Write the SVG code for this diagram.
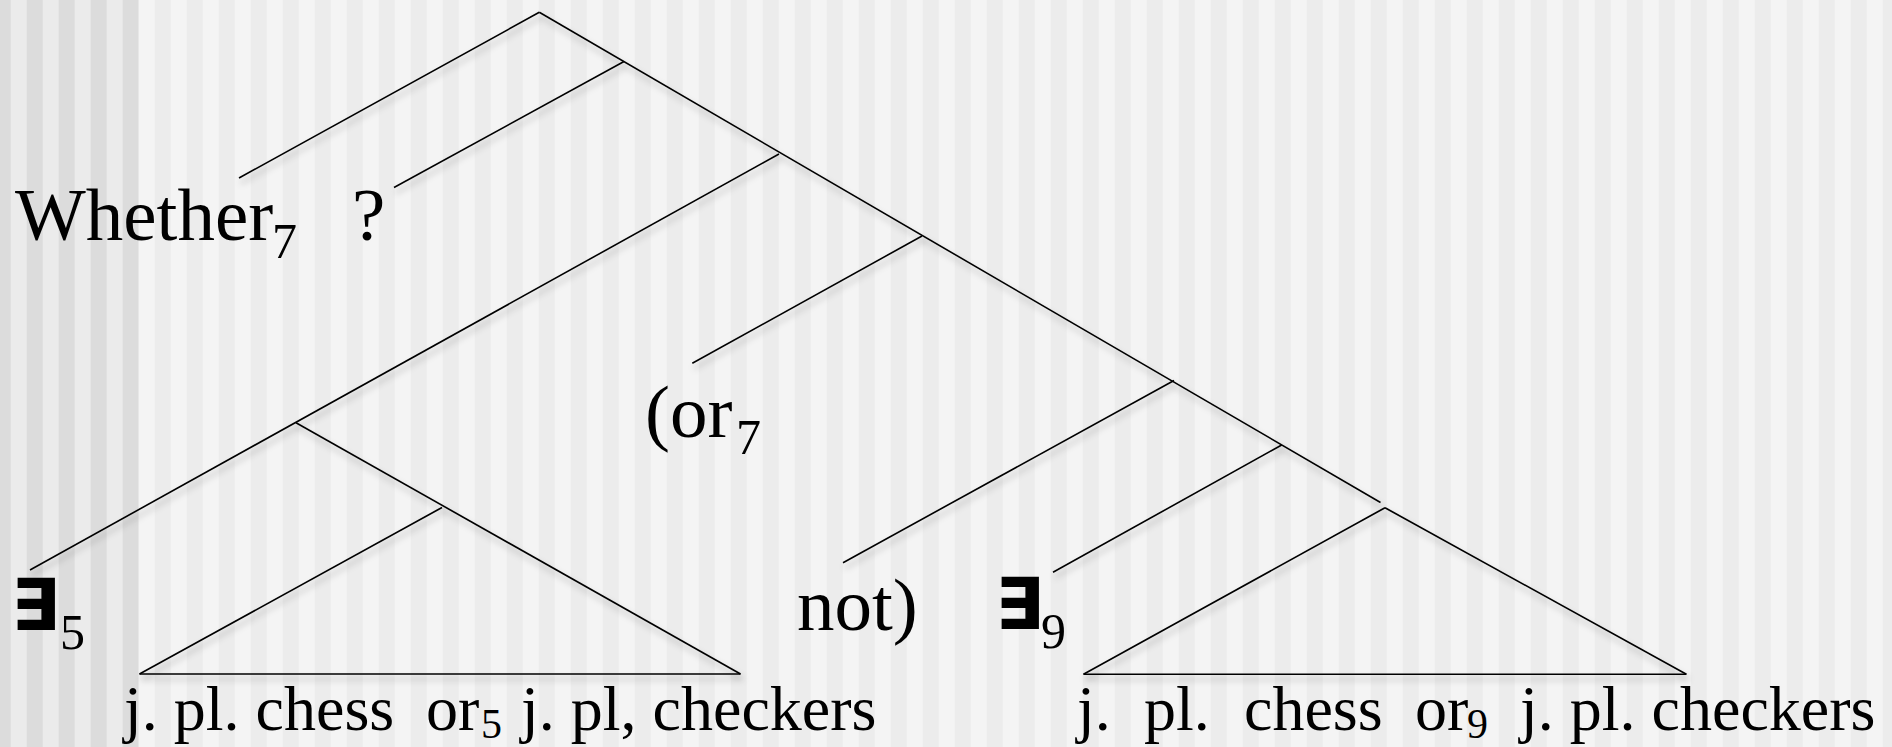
<svg xmlns="http://www.w3.org/2000/svg" width="1892" height="747" viewBox="0 0 1892 747">
<defs>
<pattern id="stripesLight" x="-5.3" y="0" width="32" height="747" patternUnits="userSpaceOnUse">
<rect x="0" y="0" width="16" height="747" fill="#ececec"/>
</pattern>
<pattern id="stripesDark" x="-5.3" y="0" width="32" height="747" patternUnits="userSpaceOnUse">
<rect x="0" y="0" width="16" height="747" fill="#dcdcdc"/>
</pattern>
<filter id="shadow" x="-10%" y="-10%" width="120%" height="130%">
<feDropShadow dx="2" dy="5" stdDeviation="3" flood-color="#000" flood-opacity="0.3"/>
</filter>
</defs>
<style>
.bg-light{fill:#f4f4f4}
.bg-dark{fill:#ebebeb}
.lbl{font-family:"Liberation Serif","Times New Roman",serif;font-size:75px;fill:#000}
.sub{font-family:"Liberation Serif","Times New Roman",serif;font-size:50px;fill:#000}
.low{font-family:"Liberation Serif","Times New Roman",serif;font-size:64px;fill:#000}
.lowsub{font-family:"Liberation Serif","Times New Roman",serif;font-size:42px;fill:#000}
.ex{font-family:"DejaVu Sans",sans-serif;font-weight:bold;font-size:72px;fill:#000}
.edge{stroke:#000;stroke-width:1.6;fill:none;stroke-linecap:butt}
</style>
<g id="background">
<rect class="bg-light" x="0" y="0" width="1892" height="747"/>
<rect x="0" y="0" width="1892" height="747" fill="url(#stripesLight)"/>
<rect class="bg-dark" x="0" y="0" width="138.5" height="747"/>
<rect x="0" y="0" width="138.5" height="747" fill="url(#stripesDark)"/>
</g>
<g id="connectors" filter="url(#shadow)">
<line class="edge" x1="539.3" y1="12.3" x2="239" y2="178"/>
<line class="edge" x1="539.3" y1="12.3" x2="1380.5" y2="502.5"/>
<line class="edge" x1="624" y1="61.5" x2="394" y2="187.5"/>
<line class="edge" x1="779" y1="154" x2="30" y2="570"/>
<line class="edge" x1="296" y1="422.7" x2="740.5" y2="674"/>
<line class="edge" x1="442" y1="507.5" x2="139.5" y2="674"/>
<line class="edge" x1="139.5" y1="674" x2="740.5" y2="674"/>
<line class="edge" x1="922" y1="236" x2="692.3" y2="363.3"/>
<line class="edge" x1="1174" y1="380.5" x2="843" y2="562.7"/>
<line class="edge" x1="1281.7" y1="445" x2="1053" y2="572.3"/>
<line class="edge" x1="1385" y1="507.7" x2="1083.5" y2="674.3"/>
<line class="edge" x1="1385" y1="507.7" x2="1686.4" y2="674.3"/>
<line class="edge" x1="1083.5" y1="674.3" x2="1686.4" y2="674.3"/>
</g>
<g id="node-whether">
<text class="lbl" x="15" y="240">Whether</text>
<text class="sub" x="272" y="258">7</text>
</g>
<g id="node-question">
<text class="lbl" x="352" y="240">?</text>
</g>
<g id="node-or7">
<text class="lbl" x="645" y="437">(or</text>
<text class="sub" x="736" y="454">7</text>
</g>
<g id="node-exists5">
<text class="ex" x="11" y="630">∃</text>
<text class="sub" x="60" y="649">5</text>
</g>
<g id="node-not">
<text class="lbl" x="797" y="630">not)</text>
</g>
<g id="node-exists9">
<text class="ex" x="995" y="629">∃</text>
<text class="sub" x="1041" y="648">9</text>
</g>
<g id="node-leaves5">
<text class="low" x="124" y="730">j. pl. chess</text>
<text class="low" x="426" y="730">or</text>
<text class="lowsub" x="481" y="738">5</text>
<text class="low" x="521" y="730">j. pl, checkers</text>
</g>
<g id="node-leaves9">
<text class="low" x="1077" y="730">j.</text>
<text class="low" x="1144" y="730">pl.</text>
<text class="low" x="1244" y="730">chess</text>
<text class="low" x="1415" y="730">or</text>
<text class="lowsub" x="1467" y="738">9</text>
<text class="low" x="1520" y="730">j. pl. checkers</text>
</g>
</svg>
